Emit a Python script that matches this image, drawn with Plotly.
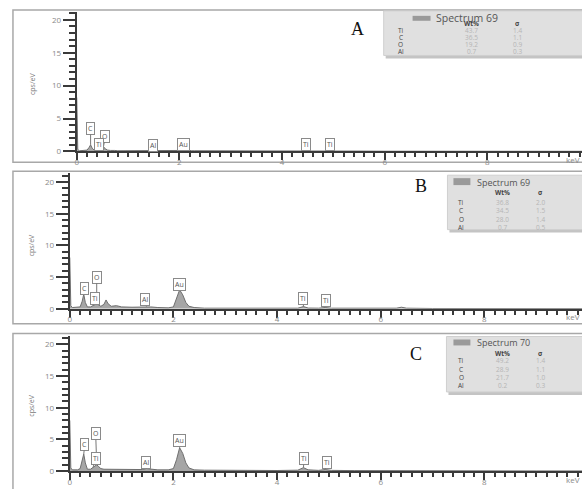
import plotly.graph_objects as go

W, H = 582, 489

# ---------------- data ----------------
energy_kev = [0.00, 0.02, 0.05, 0.10, 0.15, 0.20, 0.24, 0.27, 0.30, 0.34, 0.40, 0.45, 0.48, 0.52,
              0.56, 0.60, 0.66, 0.70, 0.74, 0.80, 0.90, 1.00, 1.20, 1.40, 1.48, 1.56, 1.70, 1.90,
              2.00, 2.06, 2.12, 2.18, 2.24, 2.30, 2.40, 2.60, 3.00, 3.50, 4.00, 4.40, 4.51, 4.60,
              4.80, 4.93, 5.05, 5.50, 6.00, 6.30, 6.40, 6.50, 7.00, 8.00, 9.00, 10.0]

counts_A = [8.2, 0.3, 0.1, 0.1, 0.1, 0.2, 0.6, 1.0, 0.5, 0.2, 0.2, 0.4, 0.5, 0.7,
            0.4, 0.2, 0.15, 0.2, 0.15, 0.1, 0.1, 0.1, 0.1, 0.1, 0.15, 0.1, 0.1, 0.1,
            0.1, 0.15, 0.3, 0.15, 0.1, 0.1, 0.1, 0.05, 0.05, 0.05, 0.05, 0.05, 0.15, 0.05,
            0.05, 0.08, 0.05, 0.05, 0.03, 0.03, 0.03, 0.03, 0.03, 0.02, 0.02, 0.02]

counts_B = [8.1, 0.5, 0.2, 0.2, 0.2, 0.3, 1.2, 2.3, 1.0, 0.3, 0.3, 0.5, 0.6, 0.8,
            0.6, 0.4, 0.7, 1.4, 0.8, 0.4, 0.5, 0.3, 0.25, 0.25, 0.35, 0.3, 0.2, 0.15,
            0.3, 1.5, 3.0, 2.2, 1.0, 0.4, 0.2, 0.1, 0.1, 0.08, 0.08, 0.1, 0.35, 0.12,
            0.1, 0.2, 0.1, 0.08, 0.06, 0.1, 0.25, 0.1, 0.05, 0.04, 0.03, 0.03]

counts_C = [8.0, 0.5, 0.2, 0.15, 0.2, 0.4, 1.5, 2.7, 1.3, 0.3, 0.3, 0.6, 0.7, 1.0,
            0.7, 0.4, 0.3, 0.3, 0.25, 0.2, 0.2, 0.2, 0.2, 0.25, 0.4, 0.3, 0.2, 0.2,
            0.4, 1.8, 3.7, 2.8, 1.3, 0.5, 0.2, 0.15, 0.12, 0.1, 0.1, 0.15, 0.55, 0.2,
            0.12, 0.25, 0.12, 0.08, 0.06, 0.05, 0.06, 0.05, 0.05, 0.04, 0.03, 0.03]

peak_labels = ["C", "O", "Ti", "Al", "Au", "Ti", "Ti"]
peak_energy = [0.27, 0.52, 0.45, 1.48, 2.12, 4.51, 4.93]

panel_letters = ["A", "B", "C"]
spectrum_names = ["Spectrum 69", "Spectrum 69", "Spectrum 70"]
elements = ["Ti", "C", "O", "Al"]
wt_A = ["43.7", "36.5", "19.2", "0.7"]
sig_A = ["1.4", "1.1", "0.9", "0.3"]
wt_B = ["36.8", "34.5", "28.0", "0.7"]
sig_B = ["2.0", "1.5", "1.4", "0.5"]
wt_C = ["49.2", "28.9", "21.7", "0.2"]
sig_C = ["1.4", "1.1", "1.0", "0.3"]

x_tick_vals = [0, 2, 4, 6, 8]
y_tick_vals = [0, 5, 10, 15, 20]

# ---------------- layout helpers (reference pixel -> paper) ----------------
def px(x):
    return x / W

def py(y):
    return 1 - y / H

panels = [
    dict(counts=counts_A, wt=wt_A, sig=sig_A,
         x0=75, kev_px=51.5, y0=153, ytop=12, unit_px=6.65,
         frame=(11, 10, 164),
         letter=(357, 29), ytitle=(30, 85),
         legend=(383, 11, 56), sw=(412, 430, 16, 21), spec=(433, 18), spec_size=10.5, hdr=24,
         rows=[31, 38, 45, 52], colx=(400, 471, 517),
         boxes=[(0.27, 3.5), (0.56, 2.3), (0.43, 1.1), (1.48, 0.9), (2.08, 1.1), (4.47, 1.0), (4.93, 1.0)]),
    dict(counts=counts_B, wt=wt_B, sig=sig_B,
         x0=68, kev_px=52, y0=312, ytop=175, unit_px=6.4,
         frame=(11, 173, 327),
         letter=(420, 188), ytitle=(30, 248),
         legend=(447, 177, 232), sw=(453, 470, 180, 187), spec=(475, 184), spec_size=9, hdr=194,
         rows=[205, 213, 222, 230], colx=(461, 502, 540),
         boxes=[(0.29, 3.2), (0.52, 5.0), (0.48, 1.6), (1.46, 1.4), (2.12, 3.9), (4.50, 1.6), (4.94, 1.25)]),
    dict(counts=counts_C, wt=wt_C, sig=sig_C,
         x0=68, kev_px=52, y0=476, ytop=339, unit_px=6.4,
         frame=(11, 337, 495),
         letter=(415, 358), ytitle=(30, 410),
         legend=(446, 340, 396), sw=(453, 470, 343, 349), spec=(475, 346), spec_size=9, hdr=357,
         rows=[364, 373, 381, 389], colx=(461, 502, 540),
         boxes=[(0.29, 4.2), (0.50, 5.9), (0.50, 2.0), (1.48, 1.4), (2.12, 4.8), (4.52, 2.0), (4.96, 1.4)]),
]

fig = go.Figure()
shapes = []
annotations = []

sans = "Open Sans, DejaVu Sans, sans-serif"
tick_font = dict(family=sans, size=8, color="#8a8a8a")
axis_col = "#3a3a3a"


def text_at(x, y, text, font, xanchor="center", **kw):
    return dict(x=px(x), y=py(y), xref="paper", yref="paper", text=text, showarrow=False,
                xanchor=xanchor, yanchor="middle", font=font, **kw)


for i, p in enumerate(panels):
    n = i + 1
    xname = "x" if n == 1 else f"x{n}"
    yname = "y" if n == 1 else f"y{n}"
    xkey = "xaxis" if n == 1 else f"xaxis{n}"
    ykey = "yaxis" if n == 1 else f"yaxis{n}"

    xmax = (W - p["x0"]) / p["kev_px"]
    ymax = (p["y0"] - p["ytop"]) / p["unit_px"]

    fig.add_trace(go.Scatter(
        x=energy_kev, y=p["counts"], xaxis=xname, yaxis=yname,
        mode="lines", fill="tozeroy", fillcolor="#a6a6a6",
        line=dict(color="#6e6e6e", width=1), showlegend=False, hoverinfo="skip"))

    fig.layout[xkey] = dict(
        domain=[px(p["x0"]), 1], range=[0, xmax], anchor=yname,
        showgrid=False, zeroline=False, showline=True, linecolor=axis_col, linewidth=2,
        ticks="outside", ticklen=7, tickwidth=2, tickcolor=axis_col,
        tickvals=x_tick_vals, tickfont=tick_font, ticklabelstandoff=-5,
        minor=dict(dtick=0.2, tick0=0, ticks="outside", ticklen=4, tickwidth=2, tickcolor=axis_col))
    fig.layout[ykey] = dict(
        domain=[py(p["y0"]), py(p["ytop"])], range=[0, ymax], anchor=xname,
        showgrid=False, zeroline=False, showline=True, linecolor=axis_col, linewidth=2,
        ticks="outside", ticklen=12, tickwidth=1.5, tickcolor=axis_col,
        tickvals=y_tick_vals, tickfont=tick_font,
        minor=dict(dtick=1, tick0=0, ticks="outside", ticklen=6, tickwidth=1.5, tickcolor=axis_col))

    # panel frame
    fx, ft, fb = p["frame"]
    shapes.append(dict(type="rect", xref="paper", yref="paper",
                       x0=px(fx), x1=px(W + 5), y0=py(fb), y1=py(ft),
                       line=dict(color="#a8a8a8", width=1.5), fillcolor="rgba(0,0,0,0)", layer="below"))

    # peak label boxes
    counts_lookup = dict(zip(energy_kev, p["counts"]))
    for lbl, e, (bx, by) in zip(peak_labels, peak_energy, p["boxes"]):
        ty = counts_lookup.get(e, 0.1)
        annotations.append(dict(
            x=e, y=ty, xref=xname, yref=yname, ax=bx, ay=by, axref=xname, ayref=yname,
            text=lbl, showarrow=True, arrowhead=0, arrowwidth=1, arrowcolor="#777777",
            font=dict(family=sans, size=7, color="#555555"),
            bgcolor="white", bordercolor="#8a8a8a", borderwidth=1, borderpad=1))

    annotations.append(text_at(573, p["y0"] + 8, "keV", tick_font))
    annotations.append(text_at(p["ytitle"][0], p["ytitle"][1], "cps/eV",
                               dict(family=sans, size=7, color="#777777"), textangle=-90))
    annotations.append(text_at(p["letter"][0], p["letter"][1], panel_letters[i],
                               dict(family="Liberation Serif, serif", size=18, color="#111111")))

    # inset table box
    lx, lt, lb = p["legend"]
    shapes.append(dict(type="rect", xref="paper", yref="paper",
                       x0=px(lx + 2), x1=px(W + 5), y0=py(lb + 3), y1=py(lt + 2),
                       line=dict(width=0), fillcolor="#c4c4c4"))
    shapes.append(dict(type="rect", xref="paper", yref="paper",
                       x0=px(lx), x1=px(W + 5), y0=py(lb), y1=py(lt),
                       line=dict(color="#cfcfcf", width=1), fillcolor="#e0e0e0"))
    s0, s1, st, sb = p["sw"]
    shapes.append(dict(type="rect", xref="paper", yref="paper",
                       x0=px(s0), x1=px(s1), y0=py(sb), y1=py(st),
                       line=dict(width=0), fillcolor="#9a9a9a"))
    small = dict(family=sans, size=6.5)
    annotations.append(text_at(p["spec"][0], p["spec"][1], spectrum_names[i],
                               dict(family=sans, size=p["spec_size"], color="#555555"), xanchor="left"))
    cx_el, cx_wt, cx_sig = p["colx"]
    annotations.append(text_at(cx_wt, p["hdr"], "<b>Wt%</b>", dict(small, color="#444444")))
    annotations.append(text_at(cx_sig, p["hdr"], "<b>σ</b>", dict(small, color="#444444")))
    for el, wv, sv, ry in zip(elements, p["wt"], p["sig"], p["rows"]):
        annotations.append(text_at(cx_el, ry, el, dict(small, color="#444444")))
        annotations.append(text_at(cx_wt, ry, wv, dict(small, color="#b5b5b5")))
        annotations.append(text_at(cx_sig, ry, sv, dict(small, color="#b5b5b5")))

fig.update_layout(
    width=W, height=H, margin=dict(l=0, r=0, t=0, b=0),
    paper_bgcolor="white", plot_bgcolor="white",
    shapes=shapes, annotations=annotations, showlegend=False)

fig.write_html("out.html", config={"displayModeBar": False},
               post_script="document.body.style.margin='0';document.body.style.overflow='hidden';")
